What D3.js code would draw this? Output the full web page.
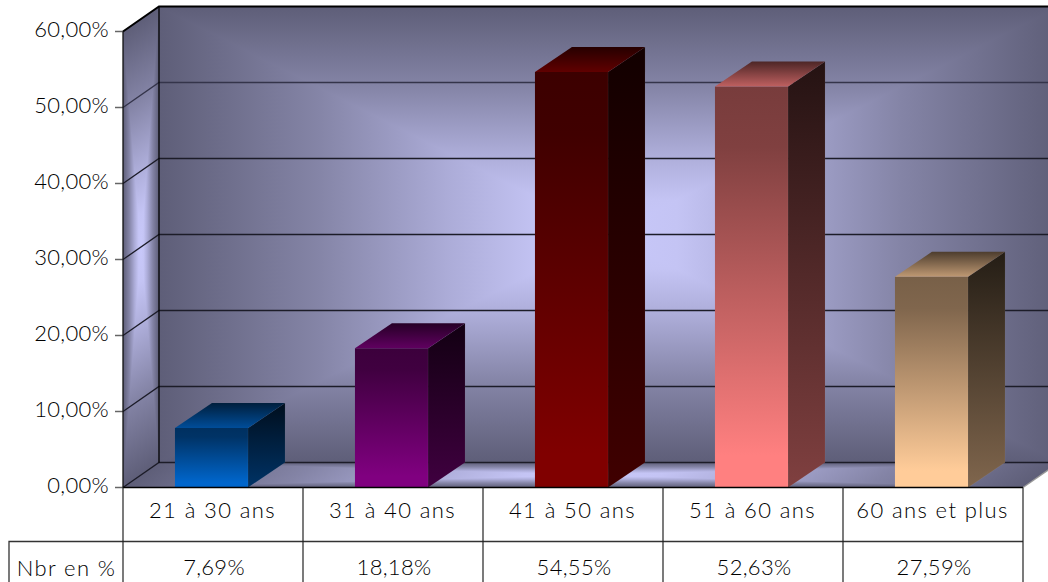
<!DOCTYPE html>
<html><head><meta charset="utf-8">
<script src="https://cdnjs.cloudflare.com/ajax/libs/d3/7.8.5/d3.min.js"></script>
<style>html,body{margin:0;padding:0;background:#fff;overflow:hidden}svg{display:block}
text{font-family:"Lato",sans-serif;font-weight:300;font-size:22px;fill:#000;letter-spacing:.3px}
text.wide{letter-spacing:1.4px}</style>
</head><body><div id="chart"></div>
<script>
const categories=["21 à 30 ans","31 à 40 ans","41 à 50 ans","51 à 60 ans","60 ans et plus"];
const values=[7.69,18.18,54.55,52.63,27.59];
const yTicks=[0,10,20,30,40,50,60];
const rowHeader="Nbr en %";
const bottomColors=["#0066cc","#800080","#800000","#ff8080","#ffcc99"];

const W=1048,H=582,left=123,right=1023,y0=487.5,yTop=31.5,dx=36,dy=-25,rowH=54,barDx=37,barLift=1;
const fmt=v=>v.toFixed(2).replace(".",",")+"%";
const svg=d3.select("#chart").append("svg").attr("width",W).attr("height",H);
const defs=svg.append("defs");
const x=d3.scaleBand().domain(categories).range([left,right]).paddingInner(0.594).paddingOuter(0.297);
const y=d3.scaleLinear().domain([0,60]).range([y0,yTop]);
const line=d3.line();

function linear(id,x1,y1,x2,y2,stops){
  const g=defs.append("linearGradient").attr("id",id)
    .attr("x1",x1).attr("y1",y1).attr("x2",x2).attr("y2",y2);
  stops.forEach(s=>g.append("stop").attr("offset",s[0]).attr("stop-color",s[1]));
}
const wallStops=[[0,"#5e5e78"],[.35,"#8484a6"],[.65,"#adadd9"],[.85,"#c4c4f4"],[1,"#c8c8fa"]];
let gid=0;
// rectangular "path" gradient: four triangles rising from the outline to the centre
function pyramid(pts){
  const c=[d3.mean(pts,p=>p[0]),d3.mean(pts,p=>p[1])];
  pts.forEach((a,i)=>{
    const b=pts[(i+1)%4],ex=b[0]-a[0],ey=b[1]-a[1];
    const t=((c[0]-a[0])*ex+(c[1]-a[1])*ey)/(ex*ex+ey*ey);
    const id="p"+(gid++);
    const g=defs.append("linearGradient").attr("id",id).attr("gradientUnits","userSpaceOnUse")
      .attr("x1",a[0]+t*ex).attr("y1",a[1]+t*ey).attr("x2",c[0]).attr("y2",c[1]);
    wallStops.forEach(s=>g.append("stop").attr("offset",s[0]).attr("stop-color",s[1]));
    svg.append("path").attr("d",line([a,b,c])+"Z").attr("fill",`url(#${id})`)
      .attr("shape-rendering","crispEdges");
  });
}
pyramid([[left+dx,y(60)+dy],[right+dx,y(60)+dy],[right+dx,y0+dy],[left+dx,y0+dy]]);
pyramid([[left,y(60)],[left+dx,y(60)+dy],[left+dx,y0+dy],[left,y0]]);
pyramid([[left,y0],[left+dx,y0+dy],[right+dx,y0+dy],[right,y0]]);
// mask what spills past the floor's right edge
svg.append("path").attr("fill","#fff").attr("d",line([[right,y0],[right+dx,y0+dy],[W+20,y0+dy],[W+20,y0+1],[right,y0+1]])+"Z");

// gridlines and ticks
yTicks.forEach(t=>{
  const c=t===60?"#000":(t===50?"#34344a":"#1c1c28"), w=t===60?2:1.3;
  svg.append("path").attr("fill","none").attr("stroke",c).attr("stroke-width",w)
    .attr("d",line([[left,y(t)],[left+dx,y(t)+dy],[right+dx,y(t)+dy]]));
  svg.append("path").attr("stroke","#666").attr("stroke-width",1.5).attr("d",line([[left-8,y(t)],[left,y(t)]]));
  svg.append("text").attr("x",left-14).attr("y",y(t)+5).attr("text-anchor","end").text(fmt(t));
});
svg.append("path").attr("stroke","#000").attr("stroke-width",1.3).attr("d",line([[left+dx,y(60)+dy],[left+dx,y0+dy]]));
svg.append("path").attr("stroke","#111").attr("stroke-width",1.3).attr("d",line([[left,y(60)],[left,y0]]));
svg.append("path").attr("stroke","#999").attr("stroke-width",1.3).attr("d",line([[right,y0],[right+dx,y0+dy]]));

// bars
const mul=(c,k)=>{const r=d3.rgb(c);return d3.rgb(r.r*k,r.g*k,r.b*k).formatHex();};
categories.forEach((c,i)=>{
  const v=values[i],col=bottomColors[i],bx=x(c)-1.5,bw=x.bandwidth(),ty=y(v)-barLift;
  linear("front"+i,0,0,0,1,[[0,mul(col,.47)],[.15,mul(col,.5)],[.92,col],[1,col]]);
  linear("side"+i,0,0,0,1,[[0,mul(col,.14)],[1,mul(col,.5)]]);
  linear("top"+i,0,0,0,1,[[0,mul(col,.3)],[1,mul(col,.75)]]);
  svg.append("path").attr("d",line([[bx,ty],[bx+bw,ty],[bx+bw,y0],[bx,y0]])+"Z").attr("fill",`url(#front${i})`);
  svg.append("path").attr("d",line([[bx+bw,ty],[bx+bw+barDx,ty+dy],[bx+bw+barDx,y0+dy],[bx+bw,y0]])+"Z").attr("fill",`url(#side${i})`)
    .attr("stroke","#fff").attr("stroke-opacity",.08).attr("stroke-width",.7);
  svg.append("path").attr("d",line([[bx,ty],[bx+barDx,ty+dy],[bx+bw+barDx,ty+dy],[bx+bw,ty]])+"Z").attr("fill",`url(#top${i})`);
});

// table
const step=x.step();
const colEdge=i=>left+i*step;
const r1=y0+rowH, r2=H+5;
svg.append("path").attr("stroke","#000").attr("stroke-width",1.5).attr("d",line([[left,y0],[right,y0]]));
svg.append("path").attr("stroke","#333").attr("stroke-width",1.3).attr("fill","none").attr("d",line([[9,H+5],[9,r1],[right,r1]]));
d3.range(categories.length+1).forEach(i=>{
  svg.append("path").attr("stroke","#222").attr("stroke-width",1.2).attr("d",line([[colEdge(i),y0],[colEdge(i),r2]]));
});
categories.forEach((c,i)=>{
  const mx=colEdge(i)+step/2;
  svg.append("text").attr("class","wide").attr("x",mx-.5).attr("y",y0+30.5).attr("text-anchor","middle").text(c);
  svg.append("text").attr("x",mx+1).attr("y",r1+33).attr("text-anchor","middle").text(fmt(values[i]));
});
svg.append("text").attr("class","wide").attr("x",(9+left)/2+.5).attr("y",r1+34).attr("text-anchor","middle").text(rowHeader);
</script></body></html>
